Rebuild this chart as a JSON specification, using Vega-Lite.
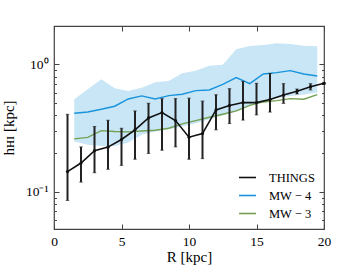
{
  "$schema": "https://vega.github.io/schema/vega-lite/v6.json",
  "width": 270,
  "height": 203,
  "autosize": "none",
  "padding": {"left": 54, "top": 26, "right": 19, "bottom": 41},
  "background": "white",
  "config": {
    "view": {"stroke": "#444", "strokeWidth": 1.2},
    "font": "Liberation Serif",
    "axis": {
      "labelFont": "Liberation Serif",
      "titleFont": "Liberation Serif",
      "labelColor": "#000",
      "titleColor": "#000",
      "labelFontSize": 13.5,
      "titleFontSize": 15,
      "titleFontWeight": "normal",
      "domain": false,
      "grid": false,
      "tickColor": "#444"
    },
    "legend": {"labelFont": "Liberation Serif", "labelFontSize": 12.5, "labelColor": "#000"}
  },
  "datasets": {
    "things": [
      {"R": 1, "h": 0.144, "lo": 0.0855, "hi": 0.405},
      {"R": 2, "h": 0.168, "lo": 0.119, "hi": 0.225},
      {"R": 3, "h": 0.210, "lo": 0.141, "hi": 0.325},
      {"R": 4, "h": 0.224, "lo": 0.150, "hi": 0.364},
      {"R": 5, "h": 0.257, "lo": 0.161, "hi": 0.315},
      {"R": 6, "h": 0.306, "lo": 0.180, "hi": 0.431},
      {"R": 7, "h": 0.380, "lo": 0.200, "hi": 0.495},
      {"R": 8, "h": 0.418, "lo": 0.212, "hi": 0.538},
      {"R": 9, "h": 0.362, "lo": 0.225, "hi": 0.538},
      {"R": 10, "h": 0.268, "lo": 0.180, "hi": 0.543},
      {"R": 11, "h": 0.286, "lo": 0.182, "hi": 0.515},
      {"R": 12, "h": 0.439, "lo": 0.306, "hi": 0.577},
      {"R": 13, "h": 0.476, "lo": 0.343, "hi": 0.644},
      {"R": 14, "h": 0.501, "lo": 0.365, "hi": 0.735},
      {"R": 15, "h": 0.501, "lo": 0.401, "hi": 0.710},
      {"R": 16, "h": 0.529, "lo": 0.422, "hi": 0.848},
      {"R": 17, "h": 0.575, "lo": 0.494, "hi": 0.706},
      {"R": 18, "h": 0.615, "lo": 0.586, "hi": 0.640},
      {"R": 19, "h": 0.668, "lo": 0.630, "hi": 0.705},
      {"R": 20, "h": 0.710, "lo": 0.700, "hi": 0.720}
    ],
    "models": [
      {"R": 1.5, "mw4": 0.413, "mw3": 0.260, "lo": 0.248, "hi": 0.532},
      {"R": 2.5, "mw4": 0.423, "mw3": 0.267, "lo": 0.234, "hi": 0.637},
      {"R": 3.5, "mw4": 0.444, "mw3": 0.302, "lo": 0.229, "hi": 0.763},
      {"R": 4.5, "mw4": 0.469, "mw3": 0.297, "lo": 0.229, "hi": 0.649},
      {"R": 5.5, "mw4": 0.535, "mw3": 0.295, "lo": 0.243, "hi": 0.618},
      {"R": 6.5, "mw4": 0.565, "mw3": 0.300, "lo": 0.280, "hi": 0.656},
      {"R": 7.5, "mw4": 0.535, "mw3": 0.304, "lo": 0.297, "hi": 0.723},
      {"R": 8.5, "mw4": 0.568, "mw3": 0.315, "lo": 0.310, "hi": 0.740},
      {"R": 9.5, "mw4": 0.582, "mw3": 0.341, "lo": 0.325, "hi": 0.850},
      {"R": 10.5, "mw4": 0.622, "mw3": 0.362, "lo": 0.345, "hi": 0.892},
      {"R": 11.5, "mw4": 0.629, "mw3": 0.384, "lo": 0.371, "hi": 0.976},
      {"R": 12.5, "mw4": 0.697, "mw3": 0.406, "lo": 0.396, "hi": 0.994},
      {"R": 13.5, "mw4": 0.787, "mw3": 0.431, "lo": 0.426, "hi": 1.311},
      {"R": 14.5, "mw4": 0.706, "mw3": 0.477, "lo": 0.472, "hi": 1.392},
      {"R": 15.5, "mw4": 0.840, "mw3": 0.507, "lo": 0.519, "hi": 1.417},
      {"R": 16.5, "mw4": 0.861, "mw3": 0.519, "lo": 0.542, "hi": 1.461},
      {"R": 17.5, "mw4": 0.892, "mw3": 0.538, "lo": 0.565, "hi": 1.445},
      {"R": 18.5, "mw4": 0.840, "mw3": 0.532, "lo": 0.579, "hi": 1.400},
      {"R": 19.5, "mw4": 0.811, "mw3": 0.579, "lo": 0.600, "hi": 1.390}
    ]
  },
  "resolve": {"axis": {"x": "independent", "y": "independent"}},
  "layer": [
    {
      "data": {"name": "models"},
      "mark": {"type": "area", "color": "#c8e6f6", "opacity": 1},
      "encoding": {
        "x": {
          "field": "R", "type": "quantitative",
          "scale": {"domain": [0, 20], "nice": false, "zero": false},
          "axis": {
            "orient": "bottom", "title": "R [kpc]", "values": [0, 5, 10, 15, 20],
            "tickSize": -5, "labelPadding": 10, "titlePadding": 2, "format": "d", "labelFlush": false
          }
        },
        "y": {
          "field": "lo", "type": "quantitative",
          "scale": {"type": "log", "domain": [0.051, 2.0], "nice": false},
          "axis": {
            "orient": "left", "title": "hʜɪ [kpc]",
            "values": [0.06, 0.07, 0.08, 0.09, 0.1, 0.2, 0.3, 0.4, 0.5, 0.6, 0.7, 0.8, 0.9, 1, 2],
            "labelExpr": "datum.value == 1 ? '10⁰' : (datum.value == 0.1 ? '10⁻¹' : '')",
            "tickSize": {"condition": {"test": "datum.value == 1 || datum.value == 0.1", "value": -5}, "value": -2.5},
            "labelPadding": 11, "titlePadding": 9
          }
        },
        "y2": {"field": "hi"}
      }
    },
    {
      "data": {"name": "models"},
      "mark": {"type": "line", "strokeWidth": 1.4},
      "encoding": {
        "x": {
          "field": "R", "type": "quantitative",
          "axis": {"orient": "top", "title": null, "labels": false, "values": [0, 5, 10, 15, 20], "tickSize": -5}
        },
        "y": {
          "field": "mw4", "type": "quantitative",
          "axis": {
            "orient": "right", "title": null, "labels": false,
            "values": [0.06, 0.07, 0.08, 0.09, 0.1, 0.2, 0.3, 0.4, 0.5, 0.6, 0.7, 0.8, 0.9, 1, 2],
            "tickSize": {"condition": {"test": "datum.value == 1 || datum.value == 0.1", "value": -5}, "value": -2.5}
          }
        },
        "color": {
          "datum": "MW − 4", "type": "nominal",
          "scale": {"domain": ["THINGS", "MW − 4", "MW − 3"], "range": ["#111111", "#1994dc", "#73a052"]},
          "legend": {
            "title": null, "orient": "bottom-right", "offset": 9,
            "symbolType": "stroke", "symbolSize": 290, "symbolStrokeWidth": 1.6,
            "labelOffset": 12, "rowPadding": 2, "padding": 0
          }
        }
      }
    },
    {
      "data": {"name": "models"},
      "mark": {"type": "line", "strokeWidth": 1.4},
      "encoding": {
        "x": {"field": "R", "type": "quantitative", "axis": null},
        "y": {"field": "mw3", "type": "quantitative", "axis": null},
        "color": {"datum": "MW − 3", "type": "nominal"}
      }
    },
    {
      "data": {"name": "things"},
      "mark": {
        "type": "errorbar",
        "ticks": {"size": 3.5, "color": "#222", "strokeWidth": 1.5},
        "rule": {"color": "#222", "strokeWidth": 2}
      },
      "encoding": {
        "x": {"field": "R", "type": "quantitative", "axis": null},
        "y": {"field": "lo", "type": "quantitative", "axis": null},
        "y2": {"field": "hi"}
      }
    },
    {
      "data": {"name": "things"},
      "mark": {"type": "line", "strokeWidth": 1.6, "point": {"filled": true, "size": 10, "color": "#111"}},
      "encoding": {
        "x": {"field": "R", "type": "quantitative", "axis": null},
        "y": {"field": "h", "type": "quantitative", "axis": null},
        "color": {"datum": "THINGS", "type": "nominal"}
      }
    }
  ]
}
